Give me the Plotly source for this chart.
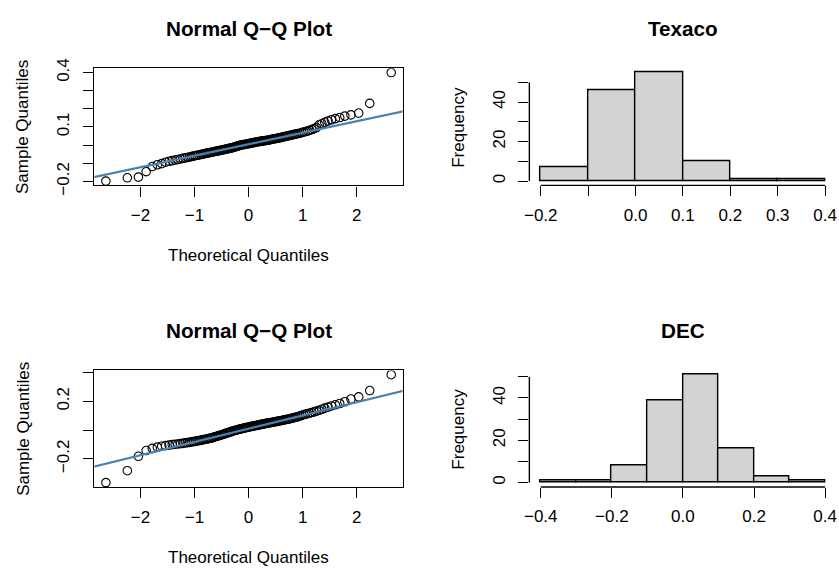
import numpy as np
import plotly.graph_objects as go
from statistics import NormalDist

# ---------------- data ----------------
texaco_sorted = [
    -0.198, -0.180, -0.176, -0.146, -0.118, -0.108, -0.102,
    -0.094, -0.089, -0.085, -0.082, -0.079, -0.076, -0.073, -0.070, -0.068, -0.065,
    -0.063, -0.060, -0.058, -0.056, -0.054, -0.052, -0.050, -0.048, -0.046, -0.044,
    -0.043, -0.041, -0.039, -0.038, -0.036, -0.034, -0.033, -0.031, -0.030, -0.028,
    -0.027, -0.025, -0.024, -0.022, -0.021, -0.019, -0.018, -0.016, -0.015, -0.013,
    -0.011, -0.009, -0.007, -0.005, -0.003, -0.001,
    0.001, 0.002, 0.003, 0.004, 0.005, 0.006, 0.008, 0.009, 0.010, 0.012, 0.013,
    0.014, 0.015, 0.017, 0.018, 0.019, 0.020, 0.021, 0.022, 0.023, 0.024, 0.025,
    0.026, 0.027, 0.028, 0.030, 0.031, 0.033, 0.034, 0.035, 0.037, 0.038, 0.040,
    0.041, 0.043, 0.045, 0.047, 0.048, 0.050, 0.052, 0.054, 0.056, 0.058, 0.060,
    0.062, 0.064, 0.066, 0.069, 0.072, 0.075, 0.078, 0.082, 0.086, 0.091, 0.097,
    0.112, 0.118, 0.126, 0.133, 0.140, 0.146, 0.152, 0.160, 0.167, 0.177,
    0.230, 0.400,
]

dec_sorted = [
    -0.365, -0.282,
    -0.182, -0.142, -0.127, -0.118, -0.112, -0.108, -0.104, -0.101,
    -0.098, -0.096, -0.094, -0.092, -0.089, -0.087, -0.085, -0.082, -0.080, -0.078,
    -0.075, -0.073, -0.071, -0.068, -0.066, -0.064, -0.062, -0.059, -0.057, -0.055,
    -0.052, -0.049, -0.046, -0.043, -0.040, -0.037, -0.035, -0.032, -0.029, -0.026,
    -0.023, -0.020, -0.017, -0.014, -0.012, -0.009, -0.006, -0.004, -0.001,
    0.001, 0.003, 0.005, 0.007, 0.009, 0.011, 0.013, 0.015, 0.017, 0.018,
    0.020, 0.022, 0.024, 0.025, 0.027, 0.029, 0.030, 0.032, 0.034, 0.035,
    0.037, 0.039, 0.040, 0.042, 0.043, 0.045, 0.047, 0.048, 0.050, 0.051,
    0.053, 0.055, 0.056, 0.058, 0.060, 0.061, 0.063, 0.065, 0.067, 0.069,
    0.071, 0.073, 0.075, 0.077, 0.079, 0.082, 0.085, 0.088, 0.091, 0.094, 0.098,
    0.103, 0.107, 0.111, 0.114, 0.118, 0.122, 0.127, 0.132, 0.138, 0.145,
    0.153, 0.160, 0.168, 0.176, 0.185, 0.197,
    0.216, 0.231, 0.275,
    0.385,
]

texaco_edges = [-0.2, -0.1, 0.0, 0.1, 0.2, 0.3, 0.4]
texaco_counts = [7, 46, 55, 10, 1, 1]
dec_edges = [-0.4, -0.3, -0.2, -0.1, 0.0, 0.1, 0.2, 0.3, 0.4]
dec_counts = [1, 1, 8, 39, 51, 16, 3, 1]

qq_xticks = [-2, -1, 0, 1, 2]
qq_xticklabels = ["\u22122", "\u22121", "0", "1", "2"]
tex_qq_yticks = [-0.2, -0.1, 0.0, 0.1, 0.2, 0.3, 0.4]
tex_qq_yticklabels = ["\u22120.2", "", "", "0.1", "", "", "0.4"]
dec_qq_yticks = [-0.2, 0.0, 0.2, 0.4]
dec_qq_yticklabels = ["\u22120.2", "", "0.2", ""]
tex_hist_xticks = [-0.2, -0.1, 0.0, 0.1, 0.2, 0.3, 0.4]
tex_hist_xticklabels = ["\u22120.2", "", "0.0", "0.1", "0.2", "0.3", "0.4"]
dec_hist_xticks = [-0.4, -0.2, 0.0, 0.2, 0.4]
dec_hist_xticklabels = ["\u22120.4", "\u22120.2", "0.0", "0.2", "0.4"]
freq_yticks = [0, 10, 20, 30, 40, 50]
freq_yticklabels = ["0", "", "20", "", "40", ""]

# ---------------- layout geometry (pixels) ----------------
W, H = 839, 579
FONT = "Liberation Sans, Arial, Helvetica, sans-serif"
TICK_SIZE = 17
TITLE_SIZE = 20.7
LW = 1.4
TICKLEN = 10
XSTAND = 4
YSTAND = 7


def fx(p):
    return p / W


def fy(p):
    return 1 - p / H


left_dom = [fx(90), fx(400)]
right_dom = [fx(527.5), fx(836.5)]
top_dom = [fy(181.7), fy(60.3)]
bot_dom = [fy(494), fy(373.3)]


def r_range(lo, hi):
    d = (hi - lo) * 0.04
    return [lo - d, hi + d]


def qq_parts(sample):
    y = np.array(sample)
    n = len(y)
    tq = np.array([NormalDist().inv_cdf((i - 0.5) / n) for i in range(1, n + 1)])
    q1, q3 = np.quantile(y, [0.25, 0.75])
    z1, z3 = NormalDist().inv_cdf(0.25), NormalDist().inv_cdf(0.75)
    slope = (q3 - q1) / (z3 - z1)
    inter = q1 - slope * z1
    return tq, y, slope, inter


fig = go.Figure()

panels = [
    ("x", "y", texaco_sorted, tex_qq_yticks, tex_qq_yticklabels, left_dom, top_dom),
    ("x3", "y3", dec_sorted, dec_qq_yticks, dec_qq_yticklabels, left_dom, bot_dom),
]
layout_axes = {}
for xa, ya, sample, yt, ytl, xd, yd in panels:
    tq, y, slope, inter = qq_parts(sample)
    xr = r_range(tq.min(), tq.max())
    yr = r_range(y.min(), y.max())
    fig.add_trace(go.Scatter(
        x=tq, y=y, mode="markers", xaxis=xa, yaxis=ya,
        marker=dict(symbol="circle-open", size=8.5, color="black",
                    line=dict(width=1.1, color="black")),
        showlegend=False, hoverinfo="x+y"))
    lx = np.array([xr[0] - 1, xr[1] + 1])
    fig.add_trace(go.Scatter(
        x=lx, y=inter + slope * lx, mode="lines", xaxis=xa, yaxis=ya,
        line=dict(color="#4682B4", width=2.2), showlegend=False, hoverinfo="skip"))
    xname = "xaxis" if xa == "x" else "xaxis" + xa[1:]
    yname = "yaxis" if ya == "y" else "yaxis" + ya[1:]
    layout_axes[xname] = dict(
        domain=xd, anchor=ya, range=xr, tickvals=qq_xticks, ticktext=qq_xticklabels,
        showline=True, mirror=True, linecolor="black", linewidth=LW,
        ticks="outside", ticklen=TICKLEN, tickwidth=LW, tickcolor="black",
        showgrid=False, zeroline=False, ticklabelstandoff=XSTAND,
        tickfont=dict(size=TICK_SIZE, color="black", family=FONT))
    layout_axes[yname] = dict(
        domain=yd, anchor=xa, range=yr, tickvals=yt, ticktext=ytl,
        showline=True, mirror=True, linecolor="black", linewidth=LW,
        ticks="outside", ticklen=TICKLEN, tickwidth=LW, tickcolor="black",
        showgrid=False, zeroline=False, tickangle=-90, ticklabelstandoff=YSTAND,
        tickfont=dict(size=TICK_SIZE, color="black", family=FONT))

hists = [
    ("x2", "y2", texaco_edges, texaco_counts, tex_hist_xticks, tex_hist_xticklabels, right_dom, top_dom),
    ("x4", "y4", dec_edges, dec_counts, dec_hist_xticks, dec_hist_xticklabels, right_dom, bot_dom),
]
shapes = []
for xa, ya, edges, counts, xt, xtl, xd, yd in hists:
    e = np.array(edges)
    centers = (e[:-1] + e[1:]) / 2
    widths = e[1:] - e[:-1]
    fig.add_trace(go.Bar(
        x=centers, y=counts, width=widths, xaxis=xa, yaxis=ya,
        marker=dict(color="#D3D3D3", line=dict(color="black", width=LW)),
        showlegend=False))
    xr = r_range(e.min(), e.max())
    yr = r_range(0, max(counts))
    xname = "xaxis" + xa[1:]
    yname = "yaxis" + ya[1:]
    layout_axes[xname] = dict(
        domain=xd, anchor=ya, range=xr, tickvals=xt, ticktext=xtl,
        showline=False, ticks="outside", ticklen=TICKLEN, tickwidth=LW, tickcolor="black",
        showgrid=False, zeroline=False, ticklabelstandoff=XSTAND,
        tickfont=dict(size=TICK_SIZE, color="black", family=FONT))
    layout_axes[yname] = dict(
        domain=yd, anchor=xa, range=yr, tickvals=freq_yticks, ticktext=freq_yticklabels,
        showline=False, ticks="outside", ticklen=TICKLEN, tickwidth=LW, tickcolor="black",
        showgrid=False, zeroline=False, tickangle=-90, ticklabelstandoff=YSTAND,
        tickfont=dict(size=TICK_SIZE, color="black", family=FONT))

    # R-style axis lines spanning only the tick range
    def xpaper(v):
        return xd[0] + (v - xr[0]) / (xr[1] - xr[0]) * (xd[1] - xd[0])

    def ypaper(v):
        return yd[0] + (v - yr[0]) / (yr[1] - yr[0]) * (yd[1] - yd[0])

    shapes.append(dict(type="line", xref="paper", yref="paper",
                       x0=xpaper(min(xt)), x1=xpaper(max(xt)), y0=yd[0], y1=yd[0],
                       line=dict(color="black", width=LW)))
    shapes.append(dict(type="line", xref="paper", yref="paper",
                       x0=xd[0], x1=xd[0], y0=ypaper(min(freq_yticks)), y1=ypaper(max(freq_yticks)),
                       line=dict(color="black", width=LW)))

annotations = []


def ann(text, x, y, size=TICK_SIZE, angle=0):
    annotations.append(dict(text=text, x=x, y=y, xref="paper", yref="paper",
                            showarrow=False, xanchor="center", yanchor="middle",
                            textangle=angle,
                            font=dict(size=size, color="black", family=FONT)))


lc = (left_dom[0] + left_dom[1]) / 2
rc = (right_dom[0] + right_dom[1]) / 2
ann("<b>Normal Q\u2212Q Plot</b>", lc, fy(19), TITLE_SIZE)
ann("<b>Texaco</b>", rc, fy(19), TITLE_SIZE)
ann("<b>Normal Q\u2212Q Plot</b>", lc, fy(331.6), TITLE_SIZE)
ann("<b>DEC</b>", rc, fy(331.6), TITLE_SIZE)
ann("Theoretical Quantiles", lc, fy(254.5))
ann("Theoretical Quantiles", lc, fy(566.8))
ann("Sample Quantiles", fx(18.3), (top_dom[0] + top_dom[1]) / 2, angle=-90)
ann("Sample Quantiles", fx(18.3), (bot_dom[0] + bot_dom[1]) / 2, angle=-90)
ann("Frequency", fx(456.7), (top_dom[0] + top_dom[1]) / 2, angle=-90)
ann("Frequency", fx(456.7), (bot_dom[0] + bot_dom[1]) / 2, angle=-90)

fig.update_layout(
    width=W, height=H, margin=dict(l=0, r=0, t=0, b=0, pad=0),
    paper_bgcolor="white", plot_bgcolor="white",
    font=dict(family=FONT, color="black", size=TICK_SIZE),
    showlegend=False, bargap=0,
    shapes=shapes, annotations=annotations,
    **layout_axes)

fig.write_html("out.html")
